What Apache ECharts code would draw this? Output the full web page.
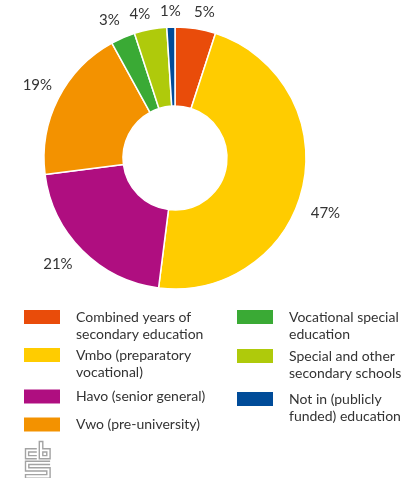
<!DOCTYPE html>
<html>
<head>
<meta charset="utf-8">
<script src="https://cdn.jsdelivr.net/npm/echarts@6/dist/echarts.min.js"></script>
<style>
  html, body { margin: 0; padding: 0; background: #ffffff; }
  #chart { width: 403px; height: 478px; }
</style>
</head>
<body>
<div id="chart"></div>
<script>
// ---- data ----
var categories = [
  'Combined years of secondary education',
  'Vmbo (preparatory vocational)',
  'Havo (senior general)',
  'Vwo (pre-university)',
  'Vocational special education',
  'Special and other secondary schools',
  'Not in (publicly funded) education'
];
var legendLabels = [
  'Combined years of\nsecondary education',
  'Vmbo (preparatory\nvocational)',
  'Havo (senior general)',
  'Vwo (pre-university)',
  'Vocational special\neducation',
  'Special and other\nsecondary schools',
  'Not in (publicly\nfunded) education'
];
var values = [5, 47, 21, 19, 3, 4, 1];

// ---- style ----
var palette = ['#E94C0A', '#FFCC00', '#AF0E80', '#F39200', '#3AAA35', '#AFCA0B', '#004C99'];
var FONT = 'Lato';
var TEXT = '#333333';
var LOGO = '#A3A3A3';

// legend placement: [left, top]
var legendSlots = [
  [22, 291.5],
  [22, 329.5],
  [22, 387.5],
  [22, 415.5],
  [235, 291.5],
  [235, 330.5],
  [235, 373.5]
];
// small text nudges for the percentage labels (relative to library anchor)
var labelNudge = [[6, 2], [4, 22], [-11, 0], [-4, -5], [-6, 0], [-7, 3], [0, 3]];

var pieData = categories.map(function (c, i) {
  return { name: c, value: values[i], itemStyle: { color: palette[i] } };
});

var legends = categories.map(function (c, i) {
  var s = legendSlots[i];
  return {
    left: s[0], top: s[1], padding: 0,
    orient: 'vertical',
    selectedMode: false,
    icon: 'rect', itemWidth: 38, itemHeight: 16,
    data: [c],
    formatter: function (name) {
      var t = legendLabels[categories.indexOf(name)];
      return t.indexOf('\n') >= 0 ? ' \n' + t : t;
    },
    textStyle: { fontFamily: FONT, fontSize: 14, color: TEXT, lineHeight: 17, padding: [0, 0, 0, 10] }
  };
});

function logoLine(points, closed) {
  return { type: closed ? 'polygon' : 'polyline', shape: { points: points }, style: { stroke: LOGO, fill: null, lineWidth: 1.4 } };
}

var chart = echarts.init(document.getElementById('chart'), null, { renderer: 'canvas' });
chart.setOption({
  animation: false,
  backgroundColor: '#ffffff',
  legend: legends,
  series: [{
    type: 'pie',
    center: [175, 158],
    radius: [52, 131],
    startAngle: 90,
    clockwise: true,
    avoidLabelOverlap: false,
    itemStyle: { borderColor: '#ffffff', borderWidth: 1.5 },
    label: {
      show: true, position: 'outside',
      formatter: '{c}%',
      distanceToLabelLine: 0,
      fontFamily: FONT, fontSize: 15, color: TEXT
    },
    labelLine: { show: false, length: 19, length2: 0 },
    labelLayout: function (p) {
      var n = labelNudge[p.dataIndex];
      return { align: 'center', dx: n[0], dy: n[1] };
    },
    emphasis: { disabled: true },
    data: pieData
  }],
  graphic: [{
    type: 'group', left: 23, top: 439,
    children: [
      // c
      logoLine([[12, 8], [0.7, 8], [0.7, 18], [12, 18]]),
      logoLine([[12, 11.2], [3.8, 11.2], [3.8, 14.8], [12, 14.8]]),
      // b
      logoLine([[14.5, 0.7], [14.5, 18], [25.3, 18], [25.3, 8], [18, 8], [18, 0.7]], true),
      logoLine([[18, 11.2], [22, 11.2], [22, 14.8], [18, 14.8]], true),
      // s
      logoLine([[25.3, 20.5], [0.7, 20.5], [0.7, 30.2], [22, 30.2], [22, 33.8], [0.7, 33.8], [0.7, 37.3], [25.3, 37.3], [25.3, 27], [4, 27], [4, 23.7], [25.3, 23.7]])
    ]
  }]
});
</script>
</body>
</html>
